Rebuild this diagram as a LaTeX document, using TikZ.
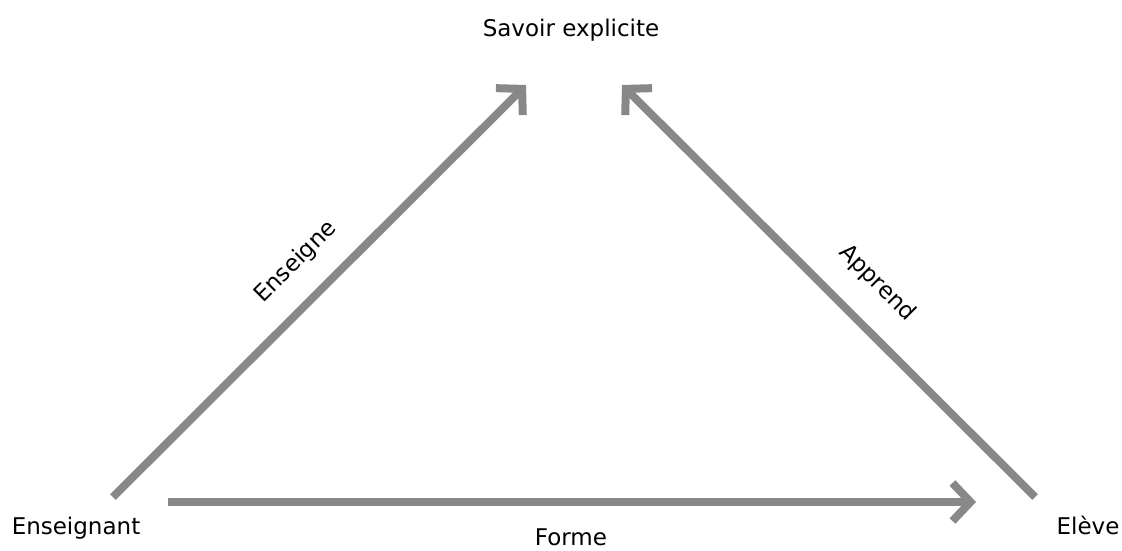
\documentclass[tikz,border=0pt]{standalone}
\usepackage{fontspec}
\setmainfont{DejaVu Sans}
\usetikzlibrary{arrows.meta}
\definecolor{arrowgray}{RGB}{136,136,136}
\begin{document}
\begin{tikzpicture}[x=1pt,y=-1pt,
  conn/.style={draw=arrowgray, line width=8pt, -{Straight Barb[length=18pt,width=38pt]}},
  lbl/.style={font=\fontsize{23}{27}\selectfont, inner sep=0pt, text=black}]
\useasboundingbox (0,0) rectangle (1122,550);
\node[lbl, anchor=base] (savoir) at (571,36) {Savoir explicite};
\node[lbl, anchor=base] (ens) at (76,534) {Enseignant};
\node[lbl, anchor=base] (eleve) at (1088,534) {Elève};
\coordinate (ensA) at (113,497);
\coordinate (savA) at (526,85);
\coordinate (eleA) at (1035,497);
\coordinate (savB) at (622,85);
\coordinate (ensB) at (168,502);
\coordinate (eleB) at (976,502);
\draw[conn] (ensA) -- (savA);
\draw[conn] (eleA) -- (savB);
\draw[conn] (ensB) -- (eleB);
\node[lbl, rotate=45] (lens) at (296,262) {Enseigne};
\node[lbl, rotate=-45] (lapp) at (877,283) {Apprend};
\node[lbl, anchor=base] (lfor) at (571,545) {Forme};
\end{tikzpicture}
\end{document}
